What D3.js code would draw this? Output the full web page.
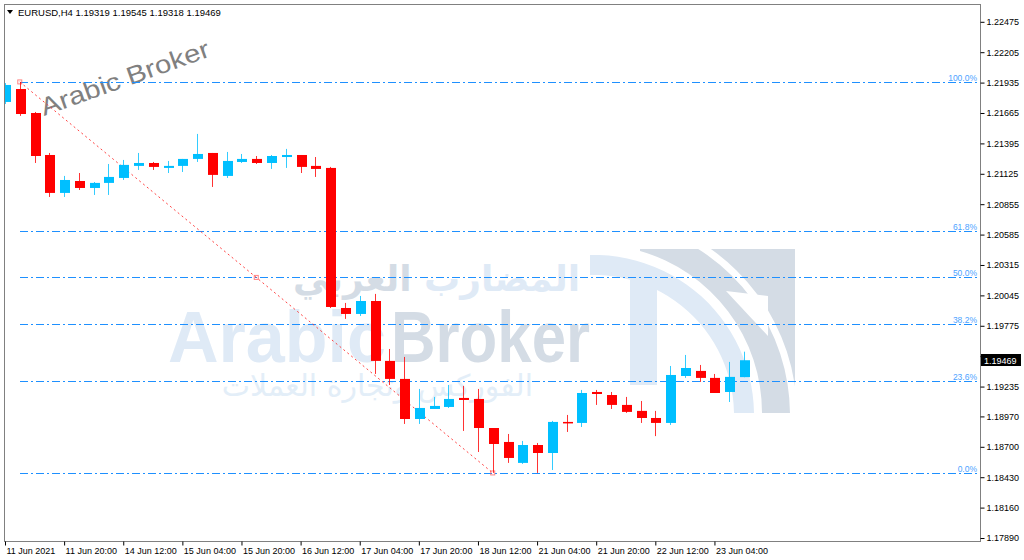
<!DOCTYPE html>
<html>
<head>
<meta charset="utf-8">
<script src="https://cdn.jsdelivr.net/npm/d3@7"></script>
<style>
  html, body { margin: 0; padding: 0; background: #fff; }
  svg { display: block; }
  text { font-family: "Liberation Sans", Arial, sans-serif; }
</style>
</head>
<body>
<svg id="chart" width="1024" height="560"></svg>
<script>
// EURUSD H4 bars, 11 Jun 2021 04:00 .. 23 Jun 2021 12:00
const opens = [1.21763,1.21878,1.21665,1.21292,1.20955,1.21061,1.20999,1.21044,1.21088,1.21195,
  1.21221,1.21177,1.21195,1.21257,1.21310,1.21106,1.21230,1.21257,1.21221,1.21274,
  1.21292,1.21195,1.21177,1.19933,1.19880,1.19995,1.19463,1.19303,1.18947,1.19036,
  1.19054,1.19134,1.19125,1.18867,1.18743,1.18557,1.18716,1.18645,1.18921,1.18912,
  1.19187,1.19160,1.19072,1.19019,1.18956,1.18912,1.19329,1.19374,1.19312,1.19187,1.19319];
const highs = [1.21931,1.21941,1.21674,1.21310,1.21106,1.21132,1.21052,1.21212,1.21248,1.21310,
  1.21230,1.21239,1.21257,1.21479,1.21310,1.21319,1.21301,1.21283,1.21292,1.21346,
  1.21292,1.21274,1.21186,1.19978,1.20040,1.20058,1.19569,1.19498,1.19214,1.19143,
  1.19249,1.19241,1.19214,1.18867,1.18814,1.18752,1.18734,1.18930,1.18983,1.19205,
  1.19205,1.19187,1.19143,1.19107,1.19019,1.19418,1.19516,1.19427,1.19347,1.19454,1.19545];
const lows = [1.21745,1.21639,1.21221,1.20919,1.20919,1.20981,1.20937,1.20937,1.21070,1.21159,
  1.21159,1.21132,1.21141,1.21230,1.21008,1.21088,1.21221,1.21212,1.21168,1.21177,
  1.21132,1.21097,1.19933,1.19836,1.19862,1.19347,1.19249,1.18903,1.18903,1.19036,
  1.19045,1.18841,1.18654,1.18468,1.18557,1.18548,1.18468,1.18494,1.18832,1.18876,
  1.19072,1.19036,1.19001,1.18912,1.18795,1.18894,1.19312,1.19276,1.19178,1.19098,1.19318];
const closes = [1.21914,1.21656,1.21283,1.20955,1.21070,1.20999,1.21044,1.21097,1.21204,1.21221,
  1.21186,1.21195,1.21257,1.21301,1.21115,1.21239,1.21257,1.21221,1.21283,1.21292,
  1.21186,1.21168,1.19942,1.19880,1.19995,1.19463,1.19303,1.18947,1.19045,1.19063,
  1.19125,1.19116,1.18867,1.18725,1.18601,1.18716,1.18645,1.18921,1.18912,1.19178,
  1.19169,1.19072,1.19010,1.18956,1.18912,1.19338,1.19400,1.19312,1.19178,1.19321,1.19469];

const timeTickBars = [0, 4, 8, 12, 16, 20, 24, 28, 32, 36, 40, 44, 48];
const timeLabels = ["11 Jun 2021", "11 Jun 20:00", "14 Jun 12:00", "15 Jun 04:00", "15 Jun 20:00",
  "16 Jun 12:00", "17 Jun 04:00", "17 Jun 20:00", "18 Jun 12:00", "21 Jun 04:00",
  "21 Jun 20:00", "22 Jun 12:00", "23 Jun 04:00"];
const priceTicks = [1.22475, 1.22205, 1.21935, 1.21665, 1.21395, 1.21125, 1.20855, 1.20585, 1.20315,
  1.20045, 1.19775, 1.19505, 1.19235, 1.18970, 1.18700, 1.18430, 1.18160, 1.17890];

const fibLevels = [0, 23.6, 38.2, 50, 61.8, 100];
const fibFrom = 1;   // bar of the swing high
const fibTo = 33;    // bar of the swing low

const bars = opens.map((o, i) => ({ i, o, h: highs[i], l: lows[i], c: closes[i] }));

const svg = d3.select("#chart");
const plotL = 4, plotR = 980, plotT = 4, plotB = 541;

const x = d3.scaleLinear().domain([0, 50]).range([5, 744]);
const y = d3.scaleLinear().domain([1.17890, 1.22475]).range([538, 21.8]);
const fmt = d3.format(".5f");

const defs = svg.append("defs");
defs.append("clipPath").attr("id", "plot")
  .append("rect").attr("x", plotL + 1).attr("y", plotT + 1)
  .attr("width", plotR - plotL - 1).attr("height", plotB - plotT - 1);

// ---- watermark (behind everything)
const wm = svg.append("g");
defs.append("clipPath").attr("id", "logo")
  .append("rect").attr("x", 590).attr("y", 249).attr("width", 205).attr("height", 164);
const logo = wm.append("g").attr("clip-path", "url(#logo)");
const cx = 594, cy = 415;
logo.append("path")
  .attr("transform", `translate(${cx},${cy})`)
  .attr("d", d3.arc()({ innerRadius: 140, outerRadius: 160, startAngle: -0.2, endAngle: Math.PI / 2 + 0.1 }))
  .attr("fill", "#dfeaf6");
logo.append("rect").attr("x", 630).attr("y", 280).attr("width", 27).attr("height", 105).attr("fill", "#dfeaf6");
logo.append("path")
  .attr("d", `M640,249 L795,249 L795,413 L762,413 A168,168 0 0,0 640,251 Z`)
  .attr("fill", "#d4dce5");
logo.append("path")
  .attr("transform", `translate(${cx},${cy})`)
  .attr("d", d3.arc()({ innerRadius: 196, outerRadius: 203, startAngle: 0.3, endAngle: Math.PI / 2 }))
  .attr("fill", "#fff");
logo.append("path").attr("d", "M726,291 L768,296 L768,336 Z").attr("fill", "#fff");

wm.append("text").attr("x", 168).attr("y", 362)
  .attr("font-size", 72).attr("font-weight", "bold")
  .attr("textLength", 218).attr("lengthAdjust", "spacingAndGlyphs")
  .attr("fill", "#dfeaf6").text("Arabic");
wm.append("text").attr("x", 391).attr("y", 362)
  .attr("font-size", 72).attr("font-weight", "bold")
  .attr("textLength", 199).attr("lengthAdjust", "spacingAndGlyphs")
  .attr("fill", "#d4dce5").text("Broker");
wm.append("text").attr("x", 580).attr("y", 291)
  .attr("text-anchor", "start").attr("direction", "rtl")
  .style("font-family", "'DejaVu Sans', sans-serif")
  .attr("font-size", 36).attr("font-weight", "bold")
  .call(t => {
    t.append("tspan").attr("fill", "#dfeaf6").text("المضارب ");
    t.append("tspan").attr("fill", "#d4dce5").text("العربي");
  });
wm.append("text").attr("x", 533).attr("y", 396)
  .attr("text-anchor", "start").attr("direction", "rtl")
  .style("font-family", "'DejaVu Sans', sans-serif")
  .attr("font-size", 30)
  .attr("fill", "#e3eef8").text("الفوركس وتجارة العملات");

// rotated brand text
svg.append("text").attr("transform", "translate(44,116) rotate(-19.7)")
  .attr("font-size", 25).attr("fill", "#808080")
  .attr("textLength", 178).attr("lengthAdjust", "spacingAndGlyphs")
  .text("Arabic Broker");

// ---- fibonacci levels
const hi = highs[fibFrom], lo = lows[fibTo];
const fibG = svg.append("g").attr("clip-path", "url(#plot)");
fibLevels.forEach(lv => {
  const p = lo + (hi - lo) * lv / 100;
  fibG.append("line")
    .attr("x1", x(fibFrom)).attr("x2", plotR - 2)
    .attr("y1", Math.round(y(p)) + 0.5).attr("y2", Math.round(y(p)) + 0.5)
    .attr("stroke", "#1e90ff").attr("stroke-width", 1)
    .attr("shape-rendering", "crispEdges")
    .attr("stroke-dasharray", "8,3,2,3");
  fibG.append("text")
    .attr("x", plotR - 3).attr("y", Math.round(y(p)) - 1)
    .attr("text-anchor", "end").attr("font-size", 8.5)
    .attr("fill", "#4da3ff").text(lv.toFixed(1) + "%");
});

// trend line of the fib object
fibG.append("line")
  .attr("x1", x(fibFrom)).attr("y1", y(hi))
  .attr("x2", x(fibTo)).attr("y2", y(lo))
  .attr("stroke", "#ff3030").attr("stroke-opacity", 0.9)
  .attr("stroke-dasharray", "2,3");
[[fibFrom, hi], [(fibFrom + fibTo) / 2, (hi + lo) / 2], [fibTo, lo]].forEach(([b, p]) => {
  fibG.append("rect")
    .attr("x", x(b) - 2).attr("y", y(p) - 2).attr("width", 4).attr("height", 4)
    .attr("fill", "none").attr("stroke", "#ff5050").attr("stroke-opacity", 0.7);
});

// ---- candles
const bull = "#00bfff", bear = "#ff0000";
const candles = svg.append("g").attr("clip-path", "url(#plot)")
  .selectAll("g").data(bars).enter().append("g");
candles.append("line")
  .attr("x1", d => Math.round(x(d.i)) + 0.5).attr("x2", d => Math.round(x(d.i)) + 0.5)
  .attr("y1", d => y(d.h)).attr("y2", d => y(d.l))
  .attr("stroke", d => d.c >= d.o ? bull : bear).attr("stroke-opacity", 0.8);
candles.append("rect")
  .attr("x", d => Math.round(x(d.i)) - 4)
  .attr("width", 10)
  .attr("y", d => y(Math.max(d.o, d.c)))
  .attr("height", d => Math.max(1.5, Math.abs(y(d.o) - y(d.c))))
  .attr("fill", d => d.c >= d.o ? bull : bear);

// ---- frame and axes
svg.append("rect").attr("x", plotL + 0.5).attr("y", plotT + 0.5)
  .attr("width", plotR - plotL).attr("height", plotB - plotT)
  .attr("fill", "none").attr("stroke", "#808080");

const yAxis = svg.append("g").attr("transform", `translate(${plotR + 0.5},0)`)
  .call(d3.axisRight(y).tickValues(priceTicks).tickSize(4).tickPadding(2).tickFormat(fmt));
yAxis.select(".domain").remove();
yAxis.selectAll(".tick line").attr("stroke", "#000");
yAxis.selectAll("text").attr("font-size", 9).attr("font-family", "'Liberation Sans', Arial, sans-serif").attr("fill", "#000");

const xAxis = svg.append("g").attr("transform", `translate(0,${plotB + 0.5})`)
  .call(d3.axisBottom(x).tickValues(timeTickBars).tickSize(4).tickPadding(2)
    .tickFormat((d, i) => timeLabels[i]));
xAxis.select(".domain").remove();
xAxis.selectAll(".tick line").attr("stroke", "#000");
xAxis.selectAll("text").attr("font-size", 9).attr("text-anchor", "start").attr("dx", 1)
  .attr("font-family", "'Liberation Sans', Arial, sans-serif").attr("fill", "#000");

// current price tag
const last = bars[bars.length - 1];
svg.append("rect").attr("x", plotR + 1).attr("y", Math.round(y(last.c)) - 6)
  .attr("width", 40).attr("height", 12).attr("fill", "#000");
svg.append("text").attr("x", plotR + 4).attr("y", Math.round(y(last.c)) + 4)
  .attr("font-size", 9).attr("fill", "#fff").text(fmt(last.c));

// header
svg.append("path").attr("d", "M7,10 L13,10 L10,14 Z").attr("fill", "#000");
svg.append("text").attr("x", 18).attr("y", 16).attr("font-size", 9.5).attr("fill", "#000")
  .text(`EURUSD,H4  ${fmt(last.o)} ${fmt(last.h)} ${fmt(last.l)} ${fmt(last.c)}`);
</script>
</body>
</html>
